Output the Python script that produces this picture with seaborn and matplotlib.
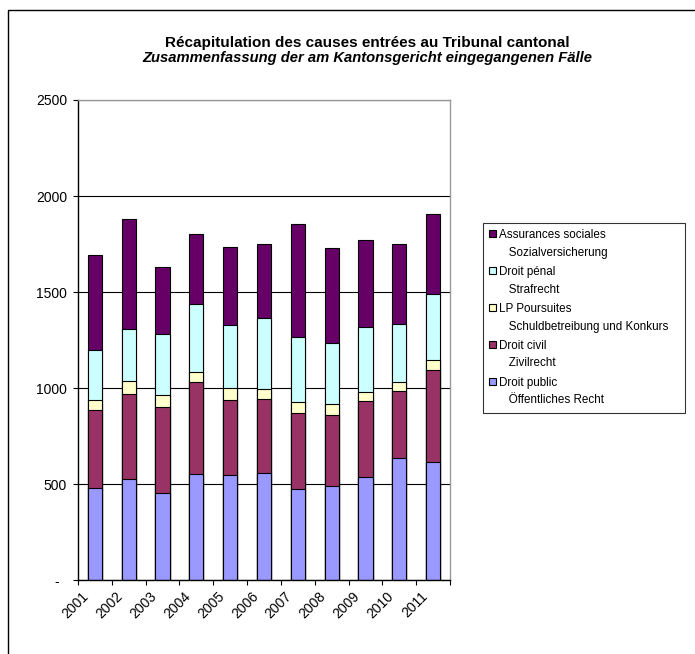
import matplotlib
matplotlib.use("Agg")
import matplotlib.pyplot as plt
from matplotlib.patches import Rectangle, Patch
from matplotlib.legend_handler import HandlerPatch
from matplotlib.transforms import ScaledTranslation
import seaborn as sns
import pandas as pd
import numpy as np

# values
years = ["2001", "2002", "2003", "2004", "2005", "2006", "2007", "2008", "2009", "2010", "2011"]
droit_public = [477, 524, 451, 552, 547, 559, 476, 490, 535, 637, 613]
droit_civil = [408, 445, 452, 477, 390, 385, 392, 371, 399, 346, 481]
lp_poursuites = [54, 66, 59, 54, 61, 49, 57, 54, 47, 48, 50]
droit_penal = [259, 270, 319, 354, 332, 371, 339, 318, 337, 304, 347]
assurances = [495, 573, 349, 363, 404, 388, 590, 494, 451, 415, 417]

labels = [
    "Droit public\n   Öffentliches Recht",
    "Droit civil\n   Zivilrecht",
    "LP Poursuites\n   Schuldbetreibung und Konkurs   ",
    "Droit pénal\n   Strafrecht",
    "Assurances sociales\n   Sozialversicherung",
]
colors = ["#9999FF", "#993366", "#FFFFCC", "#CCFFFF", "#660066"]

series = [droit_public, droit_civil, lp_poursuites, droit_penal, assurances]
cum = np.cumsum(np.array(series), axis=0)
df = pd.DataFrame({"year": years})
for i in range(len(series)):
    df[f"c{i}"] = cum[i]

sns.set_style("white")
plt.rcParams["font.family"] = ["Liberation Sans", "DejaVu Sans"]
for key in ["text.color", "xtick.color", "ytick.color", "axes.labelcolor"]:
    plt.rcParams[key] = "black"

fig = plt.figure(figsize=(6.95, 6.54), dpi=100)
ax = fig.add_axes([0.1122, 0.1131, 0.5353, 0.734])

# gridlines behind bars
ax.set_axisbelow(True)
ax.yaxis.grid(True, color="black", linewidth=0.8)

# stacked bars: draw cumulative totals from the top layer down
for i in reversed(range(len(series))):
    sns.barplot(data=df, x="year", y=f"c{i}", color=colors[i], width=0.42,
                edgecolor="black", linewidth=0.8, saturation=1, ax=ax)

ax.set_xlim(-0.5, len(years) - 0.5)
ax.set_ylim(0, 2500)
ax.set_yticks([0, 500, 1000, 1500, 2000, 2500])
ax.set_yticklabels(["-  ", "500", "1000", "1500", "2000", "2500"], fontsize=10)
ax.set_xlabel("")
ax.set_ylabel("")

# category labels centred, tick marks at category boundaries
ax.set_xticks(range(len(years)))
ax.set_xticklabels(years, rotation=45, ha="right", rotation_mode="anchor", fontsize=10)
ax.tick_params(axis="x", which="major", length=0, pad=8)
ax.set_xticks(np.arange(-0.5, len(years)), minor=True)
ax.tick_params(axis="x", which="minor", length=3.6, width=0.8, color="black", direction="out", bottom=True)
ax.tick_params(axis="y", length=3.6, width=0.8, color="black", direction="out", left=True, pad=4.3)
shift = ScaledTranslation(-0.13, 0.02, fig.dpi_scale_trans)
for lab in ax.get_xticklabels():
    lab.set_transform(lab.get_transform() + shift)

for side in ["left", "bottom"]:
    ax.spines[side].set_color("black")
    ax.spines[side].set_linewidth(1)
for side in ["top", "right"]:
    ax.spines[side].set_color("#999999")
    ax.spines[side].set_linewidth(1)

fig.text(0.528, 0.935, "Récapitulation des causes entrées au Tribunal cantonal",
         ha="center", va="center", fontsize=11, fontweight="bold")
fig.text(0.528, 0.912, "Zusammenfassung der am Kantonsgericht eingegangenen Fälle",
         ha="center", va="center", fontsize=10.6, fontweight="bold", style="italic")


# legend key sits next to the first line of each two-line label
def first_line_key(legend, orig_handle, xdescent, ydescent, width, height, fontsize):
    return Rectangle((-xdescent, -ydescent + 7.7), width, height)


handles = [Patch(facecolor=colors[i], edgecolor="black", linewidth=0.8, label=labels[i])
           for i in reversed(range(len(series)))]
leg = fig.legend(handles=handles, loc="upper left", bbox_to_anchor=(0.695, 0.659),
                 borderaxespad=0, frameon=True, fancybox=False, fontsize=8.4,
                 handlelength=0.55, handleheight=0.55, handletextpad=0.3,
                 labelspacing=0.62, borderpad=0.55, edgecolor="black",
                 handler_map={Patch: HandlerPatch(patch_func=first_line_key)})
leg.get_frame().set_linewidth(0.8)
for t in leg.get_texts():
    t.set_linespacing(1.62)

# outer chart border
fig.patches.append(Rectangle((8 / 695, -0.05), 1.2, 1 - 10 / 654 + 0.05,
                             transform=fig.transFigure, fill=False,
                             edgecolor="black", linewidth=1))

fig.savefig("out.png", dpi=100)
